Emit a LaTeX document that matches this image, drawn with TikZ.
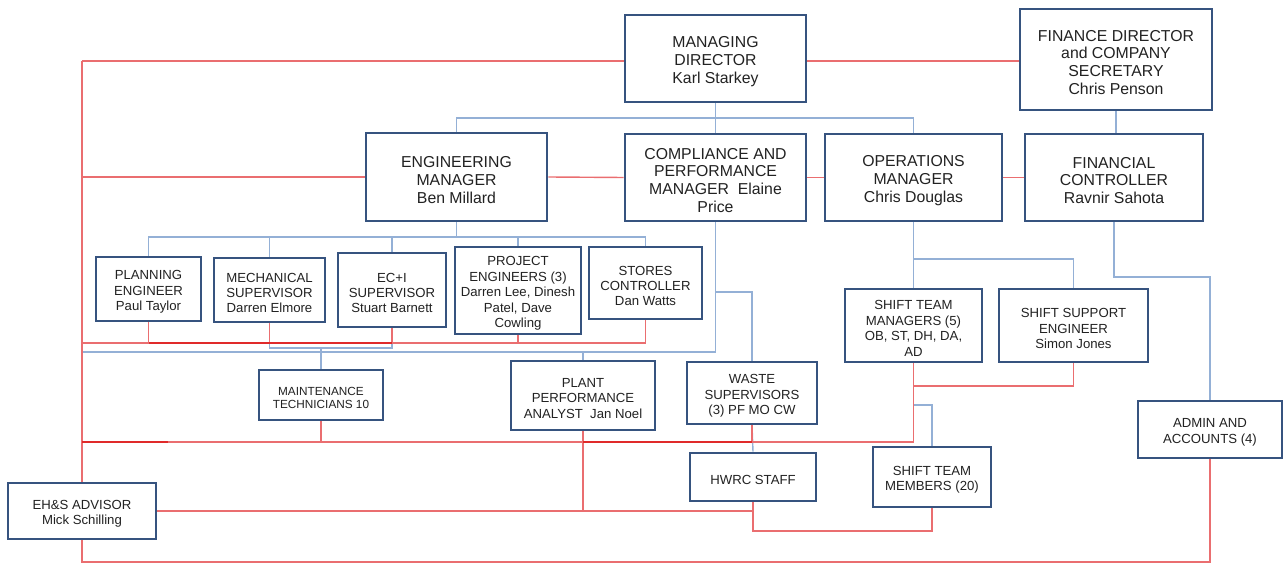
\documentclass[tikz,border=0pt]{standalone}
\usepackage{fontspec}
\setmainfont{Liberation Sans}
\definecolor{boxline}{HTML}{36537F}
\definecolor{blueln}{HTML}{94B0D6}
\definecolor{redln}{HTML}{EA6E70}
\definecolor{redk}{HTML}{E02A2A}
\definecolor{txt}{HTML}{222222}
\pgfdeclarelayer{bg}
\pgfsetlayers{bg,main}
% \orgbox{name}{style}{x1}{y1}{x2}{y2}{text}: a framed box spanning two corners
% (pixel units), with its caption set in a second node named name-t
\newcommand\orgbox[7]{%
  \pgfmathsetmacro\obcx{(#3+#5)/2}\pgfmathsetmacro\obcy{(#4+#6)/2}%
  \pgfmathsetmacro\obw{(#5-#3)*0.02}\pgfmathsetmacro\obh{(#6-#4)*0.02}%
  \node[frame,minimum width=\obw cm,minimum height=\obh cm] (#1) at (\obcx,\obcy) {};
  \node[#2] (#1-t) at ([yshift=-0.06cm]#1.center) {#7};}
\begin{document}
\begin{tikzpicture}[x=0.02cm,y=-0.02cm,
  frame/.style={draw=boxline,line width=1.5pt,fill=white,inner sep=0pt,anchor=center},
  caption/.style={inner sep=0pt,align=center,text=txt,anchor=center},
  big/.style={caption,font=\fontsize{9}{10.2}\selectfont},
  mid/.style={caption,font=\fontsize{7.5}{8.8}\selectfont},
  sml/.style={caption,font=\fontsize{6.7}{7.4}\selectfont},
  bl/.style={draw=blueln,line width=0.8pt},
  rd/.style={draw=redln,line width=0.8pt},
  rdk/.style={draw=redk,line width=1.4pt}]
\useasboundingbox (0,0) rectangle (1284,563);

% --- top level ---
\orgbox{md}{big}{625}{15}{806}{102}{MANAGING\\DIRECTOR\\Karl Starkey}
\orgbox{fd}{big}{1020}{9}{1212}{110}{FINANCE DIRECTOR\\and COMPANY\\SECRETARY\\Chris Penson}

% --- managers ---
\orgbox{eng}{big}{366}{133}{547}{221}{ENGINEERING\\MANAGER\\Ben Millard}
\orgbox{cmp}{big}{625}{134}{806}{221}{COMPLIANCE AND\\PERFORMANCE\\MANAGER~ Elaine\\Price}
\orgbox{ops}{big}{825}{134}{1002}{221}{OPERATIONS\\MANAGER\\Chris Douglas}
\orgbox{fc}{big}{1025}{134}{1203}{221}{FINANCIAL\\CONTROLLER\\Ravnir Sahota}

% --- engineering team ---
\orgbox{pl}{mid}{96}{257}{201}{321}{PLANNING\\ENGINEER\\Paul Taylor}
\orgbox{mech}{mid}{214}{258}{325}{322}{MECHANICAL\\SUPERVISOR\\Darren Elmore}
\orgbox{eci}{mid}{338}{253}{446}{327}{EC+I\\SUPERVISOR\\Stuart Barnett}
\orgbox{pe}{mid}{455}{247}{581}{334}{PROJECT\\ENGINEERS (3)\\Darren Lee, Dinesh\\Patel, Dave\\Cowling}
\orgbox{sc}{mid}{589}{247}{702}{319}{STORES\\CONTROLLER\\Dan Watts}
\orgbox{mt}{sml}{259}{370}{383}{420}{MAINTENANCE\\TECHNICIANS 10}

% --- compliance team ---
\orgbox{ppa}{mid}{511}{361}{655}{430}{PLANT\\PERFORMANCE\\ANALYST~ Jan Noel}
\orgbox{ws}{mid}{687}{362}{817}{424}{WASTE\\SUPERVISORS\\(3) PF MO CW}
\orgbox{hw}{mid}{690}{453}{816}{501}{HWRC STAFF}

% --- operations team ---
\orgbox{stm}{mid}{845}{289}{982}{362}{SHIFT TEAM\\MANAGERS (5)\\OB, ST, DH, DA,\\AD}
\orgbox{sse}{mid}{999}{289}{1148}{362}{SHIFT SUPPORT\\ENGINEER\\Simon Jones}
\orgbox{stmem}{mid}{873}{447}{991}{507}{SHIFT TEAM\\MEMBERS (20)}

% --- finance team / EH&S ---
\orgbox{adm}{mid}{1138}{401}{1282}{458}{ADMIN AND\\ACCOUNTS (4)}
\orgbox{eh}{mid}{8}{483}{156}{539}{EH\&S ADVISOR\\Mick Schilling}

% junction points
\coordinate (railT) at (82,61);
\coordinate (railB) at (82,562);
\coordinate (r177) at (82,177);
\coordinate (r343) at (82,343);
\coordinate (b352) at (82,352);
\coordinate (r442) at (82,442);
\coordinate (r442e) at (168,442);
\coordinate (b118) at (715.5,118);
\coordinate (b237) at (456.5,237);
\coordinate (b348) at (321,348);
\coordinate (wj) at (715.5,292);
\coordinate (b259) at (913.5,259);
\coordinate (r386) at (913.5,386);
\coordinate (b405) at (932,405);
\coordinate (r531) at (932,531);
\coordinate (b277) at (1210,277);

\begin{pgfonlayer}{bg}
  % line-management links (blue)
  \draw[bl] (md.south) -- (cmp.north);
  \draw[bl] (eng.north) |- (b118) -| (ops.north);
  \draw[bl] (fd.south) -- (fd.south |- fc.north);
  \draw[bl] (eng.south) -- (b237);
  \draw[bl] (pl.north) |- (b237) -| (sc.north);
  \draw[bl] (mech.north) -- (mech.north |- b237);
  \draw[bl] (eci.north) -- (eci.north |- b237);
  \draw[bl] (pe.north) -- (pe.north |- b237);
  \draw[bl] (mech.south) |- (b348) -| (eci.south);
  \draw[bl] (b348) -- (mt.north);
  \draw[bl] (b352) -| (cmp.south);
  \draw[bl] (ppa.north) -- (ppa.north |- b352);
  \draw[bl] (wj) -| (ws.north);
  \draw[bl] (ws.south) -- (hw.north);
  \draw[bl] (ops.south) -- (stm.north);
  \draw[bl] (b259) -| (sse.north);
  \draw[bl] (stm.south) |- (b405) -- (stmem.north);
  \draw[bl] (fc.south) |- (b277) -- (adm.north);

  % EH&S links (red)
  \draw[rd] (railT) -- (railT -| md.west);
  \draw[rd] (railT -| md.east) -- (railT -| fd.west);
  \draw[rd] (railT) -- (railB) -| (adm.south);
  \draw[rd] (r177) -- (eng.west);
  \draw[rd] (eng.east) -- (cmp.west);
  \draw[rd] (cmp.east) -- (ops.west);
  \draw[rd] (ops.east) -- (fc.west);
  \draw[rd] (r343) -| (sc.south);
  \draw[rd] (pl.south) -- (pl.south |- r343);
  \draw[rd] (mech.south) -- (mech.south |- r343);
  \draw[rd] (eci.south) -- (eci.south |- r343);
  \draw[rd] (pe.south) -- (pe.south |- r343);
  \draw[rdk] (pl.south |- r343) -- (eci.south |- r343);
  \draw[rd] (r442) -| (stm.south);
  \draw[rd] (sse.south) |- (r386);
  \draw[rd] (mt.south) -- (mt.south |- r442);
  \draw[rd] (ws.south) -- (ws.south |- r442);
  \draw[rd] (eh.east) -| (ppa.south);
  \draw[rd] (eh.east) -- (eh.east -| hw.south);
  \draw[rd] (hw.south) |- (r531) -- (stmem.south);
  \draw[rdk] (r442) -- (r442e);
  \draw[rdk] (ppa.south |- r442) -- (ws.south |- r442);
\end{pgfonlayer}
\end{tikzpicture}
\end{document}
